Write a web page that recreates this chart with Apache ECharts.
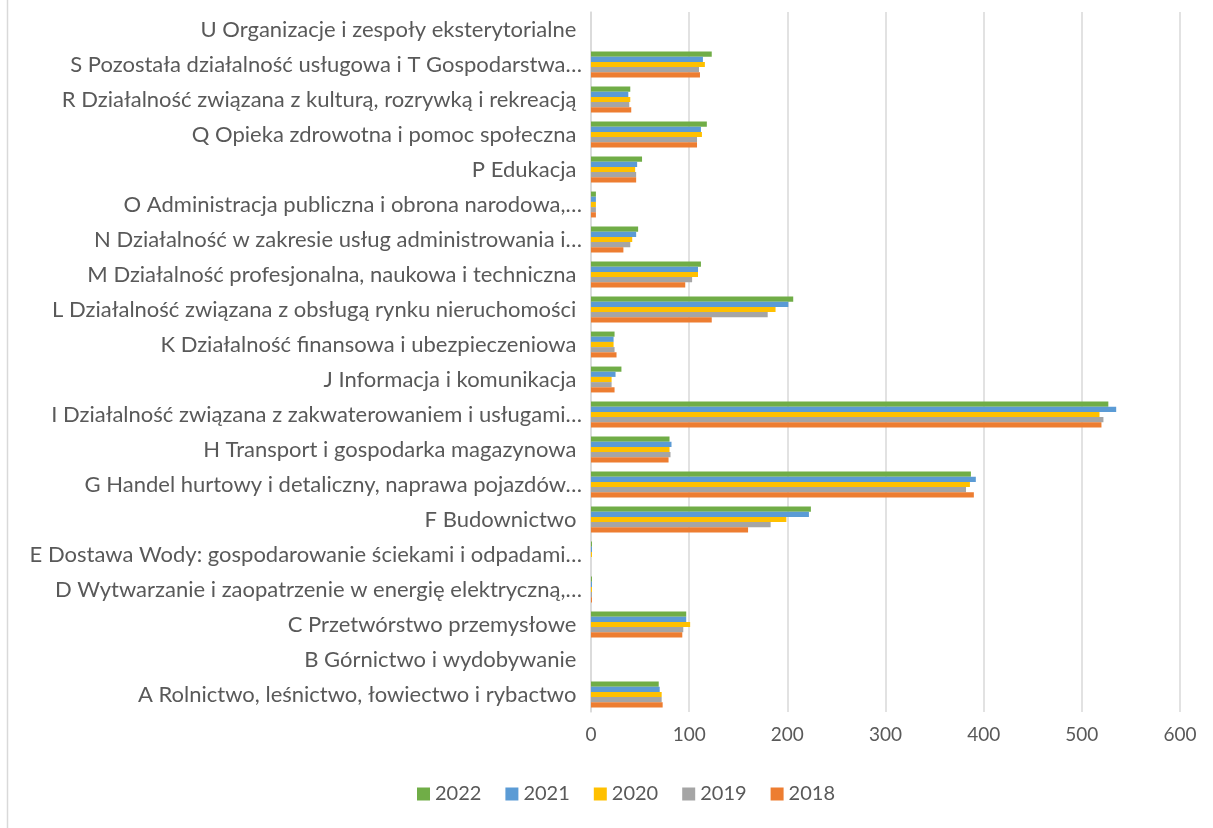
<!DOCTYPE html>
<html>
<head>
<meta charset="utf-8">
<script src="https://cdn.jsdelivr.net/npm/echarts@6/dist/echarts.min.js"></script>
<style>
    html, body { margin: 0; padding: 0; background: #fff; }
    #chart { width: 1213px; height: 828px; }
</style>
</head>
<body>
<div id="chart"></div>
<script>
// categories from bottom (A) to top (U)
const categories = [
    'A Rolnictwo, leśnictwo, łowiectwo i rybactwo ',
    'B Górnictwo i wydobywanie ',
    'C Przetwórstwo przemysłowe ',
    'D Wytwarzanie i zaopatrzenie w energię elektryczną,…',
    'E Dostawa Wody: gospodarowanie ściekami i odpadami…',
    'F Budownictwo ',
    'G Handel hurtowy i detaliczny, naprawa pojazdów…',
    'H Transport i gospodarka magazynowa ',
    'I Działalność związana z zakwaterowaniem i usługami…',
    'J Informacja i komunikacja ',
    'K Działalność finansowa i ubezpieczeniowa ',
    'L Działalność związana z obsługą rynku nieruchomości ',
    'M Działalność profesjonalna, naukowa i techniczna ',
    'N Działalność w zakresie usług administrowania i…',
    'O Administracja publiczna i obrona narodowa,…',
    'P Edukacja ',
    'Q Opieka zdrowotna i pomoc społeczna ',
    'R Działalność związana z kulturą, rozrywką i rekreacją ',
    'S Pozostała działalność usługowa i T Gospodarstwa…',
    'U Organizacje i zespoły eksterytorialne '
];

const v2022 = [69, 0, 97, 1, 1, 224, 387, 80, 527, 31, 24, 206, 112, 48, 5, 52, 118, 40, 123, 0];
const v2021 = [70, 0, 97, 1, 1, 222, 392, 82, 535, 25, 23, 201, 109, 46, 5, 47, 112, 38, 114, 0];
const v2020 = [72, 0, 101, 1, 1, 199, 386, 80, 518, 21, 23, 188, 109, 42, 5, 45, 113, 40, 116, 0];
const v2019 = [72, 0, 94, 1, 0, 183, 382, 81, 522, 21, 24, 180, 103, 40, 5, 46, 108, 39, 110, 0];
const v2018 = [73, 0, 93, 1, 0, 160, 390, 79, 520, 24, 26, 123, 96, 33, 5, 46, 108, 41, 111, 0];

const xTicks = [0, 100, 200, 300, 400, 500, 600];

const font = 'Lato, "Open Sans", sans-serif';
const textColor = '#595959';

const chart = echarts.init(document.getElementById('chart'));

function bar(name, data, color) {
    return {
        name: name,
        type: 'bar',
        data: data,
        itemStyle: { color: color },
        barGap: '0%',
        barCategoryGap: '26%',
        animation: false
    };
}

const option = {
    backgroundColor: '#fff',
    textStyle: { fontFamily: font },
    grid: { left: 591, right: 33, top: 12, bottom: 116 },
    legend: {
        bottom: 19,
        left: 412,
        itemWidth: 13,
        itemHeight: 13,
        itemGap: 24,
        icon: 'rect',
        data: ['2022', '2021', '2020', '2019', '2018'],
        textStyle: { color: textColor, fontSize: 20, fontFamily: font }
    },
    xAxis: {
        type: 'value',
        min: xTicks[0],
        max: xTicks[xTicks.length - 1],
        interval: 100,
        axisLine: { show: false },
        axisTick: { show: false },
        splitLine: { lineStyle: { color: '#d9d9d9', width: 1.5 } },
        axisLabel: { color: textColor, fontSize: 19, margin: 13, fontFamily: font }
    },
    yAxis: {
        type: 'category',
        data: categories,
        axisLine: { lineStyle: { color: '#d9d9d9', width: 1.5 } },
        axisTick: { show: false },
        axisLabel: { color: textColor, fontSize: 22, margin: 9, fontFamily: font, interval: 0 }
    },
    graphic: [{
        type: 'line',
        shape: { x1: 7.5, y1: 0, x2: 7.5, y2: 828 },
        style: { stroke: '#d9d9d9', lineWidth: 1.5 }
    }],
    // first series is drawn at the top of each group
    series: [
        bar('2022', v2022, '#70AD47'),
        bar('2021', v2021, '#5B9BD5'),
        bar('2020', v2020, '#FFC000'),
        bar('2019', v2019, '#A5A5A5'),
        bar('2018', v2018, '#ED7D31')
    ]
};

chart.setOption(option);
</script>
</body>
</html>
